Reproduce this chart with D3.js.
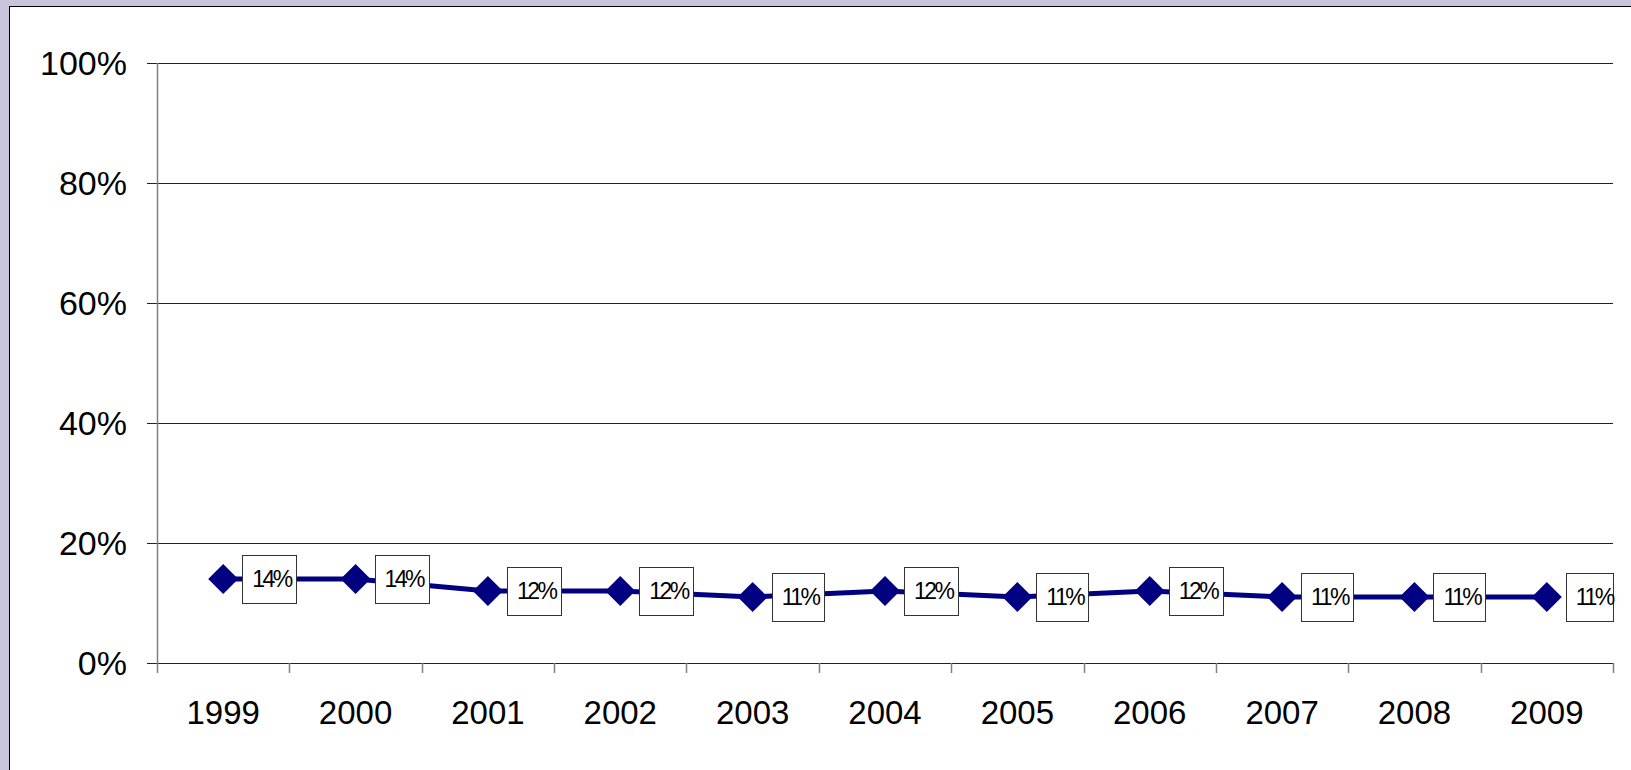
<!DOCTYPE html>
<html>
<head>
<meta charset="utf-8">
<script src="https://cdn.jsdelivr.net/npm/d3@7"></script>
<style>
  html, body { margin: 0; padding: 0; background: #CBC3DC; overflow: hidden; }
  svg { display: block; }
</style>
</head>
<body>
<svg id="chart" width="1631" height="770"></svg>
<script>
const years = ["1999","2000","2001","2002","2003","2004","2005","2006","2007","2008","2009"];
const values = [14, 14, 12, 12, 11, 12, 11, 12, 11, 11, 11];
const yTicks = [0, 20, 40, 60, 80, 100];

(function () {
const W = 1631, H = 770;
const svg = d3.select("#chart");
const font = "Arial, 'Liberation Sans', sans-serif";

// background panel
svg.append("rect").attr("x", 0).attr("y", 0).attr("width", W).attr("height", H).attr("fill", "#CBC3DC");
svg.append("rect").attr("x", 9.5).attr("y", 6.5).attr("width", W).attr("height", H).attr("fill", "#fff")
  .attr("stroke", "#000").attr("stroke-width", 1);

const pL = 157, pR = 1613, pT = 63, pB = 663;
const x = d3.scaleBand().domain(years).range([pL, pR]).padding(0);
const y = d3.scaleLinear().domain([0, 100]).range([pB, pT]);

// gridlines
svg.append("g").selectAll("line").data(yTicks).join("line")
  .attr("x1", pL - 10).attr("x2", pR)
  .attr("y1", d => Math.round(y(d)) + 0.5).attr("y2", d => Math.round(y(d)) + 0.5)
  .attr("stroke", "#222").attr("stroke-width", 1);

// y axis line
svg.append("line").attr("x1", pL + 0.5).attr("x2", pL + 0.5)
  .attr("y1", pT).attr("y2", pB + 10)
  .attr("stroke", "#808080").attr("stroke-width", 1.5);

// x ticks at category boundaries
const bounds = years.map(d => x(d)).concat([pR]);
svg.append("g").selectAll("line").data(bounds.slice(1)).join("line")
  .attr("x1", d => Math.round(d) + 0.5).attr("x2", d => Math.round(d) + 0.5)
  .attr("y1", pB).attr("y2", pB + 10)
  .attr("stroke", "#808080").attr("stroke-width", 1.5);

// y labels
svg.append("g").selectAll("text").data(yTicks).join("text")
  .attr("x", 127).attr("y", d => y(d) + 12)
  .attr("text-anchor", "end")
  .attr("font-family", font).attr("font-size", 34).attr("fill", "#000")
  .text(d => d + "%");

// x labels
svg.append("g").selectAll("text").data(years).join("text")
  .attr("x", d => x(d) + x.bandwidth() / 2).attr("y", 724)
  .attr("text-anchor", "middle")
  .attr("font-family", font).attr("font-size", 33).attr("fill", "#000")
  .text(d => d);

// line
const pts = years.map((d, i) => [x(d) + x.bandwidth() / 2, y(values[i])]);
svg.append("path").datum(pts)
  .attr("d", d3.line())
  .attr("fill", "none").attr("stroke", "#000080").attr("stroke-width", 5);

// markers
svg.append("g").selectAll("path").data(pts).join("path")
  .attr("d", d => `M${d[0]},${d[1] - 15}L${d[0] + 15},${d[1]}L${d[0]},${d[1] + 15}L${d[0] - 15},${d[1]}Z`)
  .attr("fill", "#000080");

// data labels
const lab = svg.append("g");
pts.forEach((p, i) => {
  const g = lab.append("g");
  const bx = p[0] + 19;
  const rect = g.append("rect");
  const t = g.append("text")
    .attr("x", bx + 10).attr("y", p[1] + 8)
    .attr("font-family", font).attr("font-size", 23).attr("letter-spacing", -2.5)
    .attr("fill", "#000")
    .text(values[i] + "%");
  const tw = t.node().getComputedTextLength();
  let w = tw + 15;
  if (bx + w > pR) w = pR - bx;
  rect.attr("x", Math.round(bx) + 0.5).attr("y", Math.round(p[1] - 24) + 0.5)
    .attr("width", Math.round(w)).attr("height", 48)
    .attr("fill", "#fff").attr("stroke", "#333").attr("stroke-width", 1);
});
})();
</script>
</body>
</html>
